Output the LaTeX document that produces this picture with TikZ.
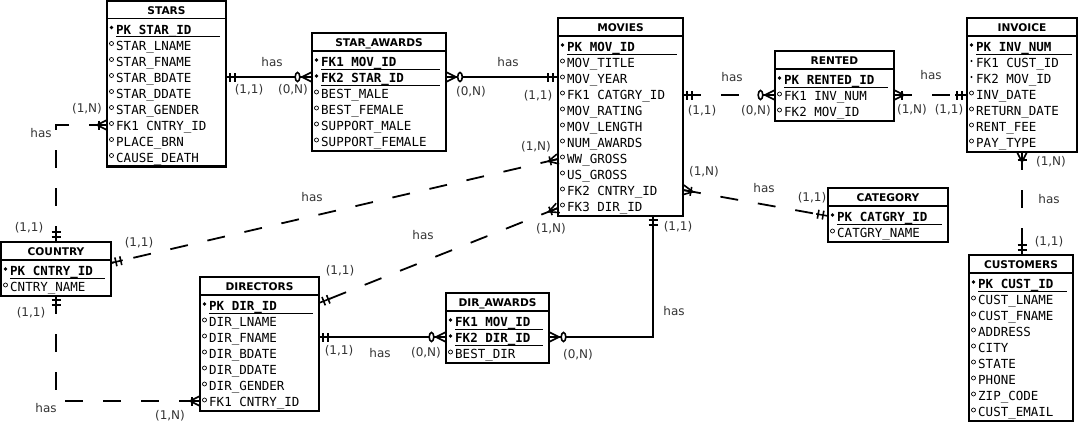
\documentclass[tikz,border=0pt]{standalone}
\usepackage{fontspec}
\setmainfont{DejaVu Sans}
\newfontfamily\fieldfont{DejaVu Sans Mono}
\usepackage{tikz}
\usetikzlibrary{calc}
\usetikzlibrary{decorations.markings}

\tikzset{
  entity/.style={draw, line width=2.2pt, anchor=north west, inner sep=0pt, outer sep=0pt},
  etitle/.style={anchor=base, inner sep=0pt, font=\bfseries\fontsize{10.6}{12}\selectfont},
  esep/.style={line width=1.8pt},
  field/.style={anchor=base west, inner sep=0pt, font=\fieldfont\fontsize{12.5}{16}\selectfont},
  fieldp/.style={field, font=\fieldfont\bfseries\fontsize{12.5}{16}\selectfont},
  fieldo/.style={field}, fieldf/.style={field},
  dotp/.style={circle, fill, inner sep=0pt, minimum size=3.6pt},
  doto/.style={circle, draw, line width=0.7pt, inner sep=0pt, minimum size=4pt},
  dotf/.style={circle, fill, inner sep=0pt, minimum size=2.4pt},
  linep/.style={draw, line width=0.9pt}, lineo/.style={}, linef/.style={},
  lbl/.style={inner sep=0pt, text=black!80, font=\fontsize{12}{14}\selectfont},
  rel/.style={line width=1.8pt},
  dashrel/.style={rel, dash pattern=on 18pt off 20pt},
  symb/.style={draw, solid, line width=1.6pt},
  mk/.style 2 args={postaction={decorate, decoration={markings, mark=at position #1 with {#2}}}},
  one start/.style={mk={4pt}{\draw[symb] (0,-4.5pt) -- (0,4.5pt);}, mk={9pt}{\draw[symb] (0,-4.5pt) -- (0,4.5pt);},
    mk={12pt}{\draw[symb] (-12pt,0) -- (0,0);}},
  one end/.style={mk={-5pt}{\draw[symb] (0,-4.5pt) -- (0,4.5pt);}, mk={-10pt}{\draw[symb] (0,-4.5pt) -- (0,4.5pt);},
    mk={-12pt}{\draw[symb] (12pt,0) -- (0,0);}},
  many start/.style={mk={10pt}{\draw[symb] (-10pt,5pt) -- (0,0) -- (-10pt,-5pt); \draw[symb] (-10pt,0) -- (0,0);}},
  many end/.style={mk={-10pt}{\draw[symb] (10pt,5pt) -- (0,0) -- (10pt,-5pt); \draw[symb] (10pt,0) -- (0,0);}},
  zero start/.style={mk={14pt}{\draw[symb, fill=white] (0,0) ellipse [x radius=2.3pt, y radius=4.5pt];}},
  zero end/.style={mk={-14.5pt}{\draw[symb, fill=white] (0,0) ellipse [x radius=2.3pt, y radius=4.5pt];}},
  bar start/.style={mk={8pt}{\draw[symb] (0,-4.5pt) -- (0,4.5pt);}},
  bar end/.style={mk={-8pt}{\draw[symb] (0,-4.5pt) -- (0,4.5pt);}},
}

\begin{document}
\begin{tikzpicture}[x=1pt, y=-1pt]
	\useasboundingbox (0,0) rectangle (1079,426);

	% STARS
	\node[entity, minimum width=119pt, minimum height=166pt] (stars) at (107,0.5) {};
	\node[etitle] (stars t) at ([yshift=-13.5pt]stars.north) {STARS};
	\draw[esep] ([yshift=-18pt]stars.north west) -- ([yshift=-18pt]stars.north east);
	\foreach \k/\t [count=\i] in {p/PK STAR\_ID, o/STAR\_LNAME, o/STAR\_FNAME, o/STAR\_BDATE, o/STAR\_DDATE, o/STAR\_GENDER, o/FK1 CNTRY\_ID, o/PLACE\_BRN, o/CAUSE\_DEATH} {
		\node[field\k] (stars\i) at ([xshift=9pt, yshift={-17.5pt-16pt*\i}]stars.north west) {\t};
		\node[dot\k] (stars\i d) at ([xshift=-4.5pt, yshift=6.5pt]stars\i.base west) {};
		\path[line\k] ([yshift=-2.5pt]stars\i.base west) -- ($(stars.east |- stars\i.base)+(-6pt,-2.5pt)$);
	}

	% STAR_AWARDS
	\node[entity, minimum width=134pt, minimum height=118pt] (staraw) at (312,33) {};
	\node[etitle] (staraw t) at ([yshift=-13.5pt]staraw.north) {STAR\_AWARDS};
	\draw[esep] ([yshift=-18pt]staraw.north west) -- ([yshift=-18pt]staraw.north east);
	\foreach \k/\t [count=\i] in {p/FK1 MOV\_ID, p/FK2 STAR\_ID, o/BEST\_MALE, o/BEST\_FEMALE, o/SUPPORT\_MALE, o/SUPPORT\_FEMALE} {
		\node[field\k] (staraw\i) at ([xshift=9pt, yshift={-17.5pt-16pt*\i}]staraw.north west) {\t};
		\node[dot\k] (staraw\i d) at ([xshift=-4.5pt, yshift=6.5pt]staraw\i.base west) {};
		\path[line\k] ([yshift=-2.5pt]staraw\i.base west) -- ($(staraw.east |- staraw\i.base)+(-6pt,-2.5pt)$);
	}

	% MOVIES
	\node[entity, minimum width=125pt, minimum height=198pt] (movies) at (558,18) {};
	\node[etitle] (movies t) at ([yshift=-13.5pt]movies.north) {MOVIES};
	\draw[esep] ([yshift=-18pt]movies.north west) -- ([yshift=-18pt]movies.north east);
	\foreach \k/\t [count=\i] in {p/PK MOV\_ID, o/MOV\_TITLE, o/MOV\_YEAR, o/FK1 CATGRY\_ID, o/MOV\_RATING, o/MOV\_LENGTH, o/NUM\_AWARDS, o/WW\_GROSS, o/US\_GROSS, o/FK2 CNTRY\_ID, o/FK3 DIR\_ID} {
		\node[field\k] (movies\i) at ([xshift=9pt, yshift={-17.5pt-16pt*\i}]movies.north west) {\t};
		\node[dot\k] (movies\i d) at ([xshift=-4.5pt, yshift=6.5pt]movies\i.base west) {};
		\path[line\k] ([yshift=-2.5pt]movies\i.base west) -- ($(movies.east |- movies\i.base)+(-6pt,-2.5pt)$);
	}

	% RENTED
	\node[entity, minimum width=119pt, minimum height=70pt] (rented) at (775,51) {};
	\node[etitle] (rented t) at ([yshift=-13.5pt]rented.north) {RENTED};
	\draw[esep] ([yshift=-18pt]rented.north west) -- ([yshift=-18pt]rented.north east);
	\foreach \k/\t [count=\i] in {p/PK RENTED\_ID, o/FK1 INV\_NUM, o/FK2 MOV\_ID} {
		\node[field\k] (rented\i) at ([xshift=9pt, yshift={-17.5pt-16pt*\i}]rented.north west) {\t};
		\node[dot\k] (rented\i d) at ([xshift=-4.5pt, yshift=6.5pt]rented\i.base west) {};
		\path[line\k] ([yshift=-2.5pt]rented\i.base west) -- ($(rented.east |- rented\i.base)+(-6pt,-2.5pt)$);
	}

	% INVOICE
	\node[entity, minimum width=110pt, minimum height=134pt] (invoice) at (967,18) {};
	\node[etitle] (invoice t) at ([yshift=-13.5pt]invoice.north) {INVOICE};
	\draw[esep] ([yshift=-18pt]invoice.north west) -- ([yshift=-18pt]invoice.north east);
	\foreach \k/\t [count=\i] in {p/PK INV\_NUM, f/FK1 CUST\_ID, f/FK2 MOV\_ID, o/INV\_DATE, o/RETURN\_DATE, o/RENT\_FEE, o/PAY\_TYPE} {
		\node[field\k] (invoice\i) at ([xshift=9pt, yshift={-17.5pt-16pt*\i}]invoice.north west) {\t};
		\node[dot\k] (invoice\i d) at ([xshift=-4.5pt, yshift=6.5pt]invoice\i.base west) {};
		\path[line\k] ([yshift=-2.5pt]invoice\i.base west) -- ($(invoice.east |- invoice\i.base)+(-5pt,-2.5pt)$);
	}

	% CATEGORY
	\node[entity, minimum width=120pt, minimum height=54pt] (category) at (828,188) {};
	\node[etitle] (category t) at ([yshift=-13.5pt]category.north) {CATEGORY};
	\draw[esep] ([yshift=-18pt]category.north west) -- ([yshift=-18pt]category.north east);
	\foreach \k/\t [count=\i] in {p/PK CATGRY\_ID, o/CATGRY\_NAME} {
		\node[field\k] (category\i) at ([xshift=9pt, yshift={-17.5pt-16pt*\i}]category.north west) {\t};
		\node[dot\k] (category\i d) at ([xshift=-4.5pt, yshift=6.5pt]category\i.base west) {};
		\path[line\k] ([yshift=-2.5pt]category\i.base west) -- ($(category.east |- category\i.base)+(-6pt,-2.5pt)$);
	}

	% CUSTOMERS
	\node[entity, minimum width=104pt, minimum height=166pt] (customers) at (969,255) {};
	\node[etitle] (customers t) at ([yshift=-13.5pt]customers.north) {CUSTOMERS};
	\draw[esep] ([yshift=-18pt]customers.north west) -- ([yshift=-18pt]customers.north east);
	\foreach \k/\t [count=\i] in {p/PK CUST\_ID, o/CUST\_LNAME, o/CUST\_FNAME, o/ADDRESS, o/CITY, o/STATE, o/PHONE, o/ZIP\_CODE, o/CUST\_EMAIL} {
		\node[field\k] (customers\i) at ([xshift=9pt, yshift={-17.5pt-16pt*\i}]customers.north west) {\t};
		\node[dot\k] (customers\i d) at ([xshift=-4.5pt, yshift=6.5pt]customers\i.base west) {};
		\path[line\k] ([yshift=-2.5pt]customers\i.base west) -- ($(customers.east |- customers\i.base)+(-6pt,-2.5pt)$);
	}

	% COUNTRY
	\node[entity, minimum width=110pt, minimum height=54pt] (country) at (1,242) {};
	\node[etitle] (country t) at ([yshift=-13.5pt]country.north) {COUNTRY};
	\draw[esep] ([yshift=-18pt]country.north west) -- ([yshift=-18pt]country.north east);
	\foreach \k/\t [count=\i] in {p/PK CNTRY\_ID, o/CNTRY\_NAME} {
		\node[field\k] (country\i) at ([xshift=9pt, yshift={-17.5pt-16pt*\i}]country.north west) {\t};
		\node[dot\k] (country\i d) at ([xshift=-4.5pt, yshift=6.5pt]country\i.base west) {};
		\path[line\k] ([yshift=-2.5pt]country\i.base west) -- ($(country.east |- country\i.base)+(-6pt,-2.5pt)$);
	}

	% DIRECTORS
	\node[entity, minimum width=119pt, minimum height=134pt] (directors) at (200,277) {};
	\node[etitle] (directors t) at ([yshift=-13.5pt]directors.north) {DIRECTORS};
	\draw[esep] ([yshift=-18pt]directors.north west) -- ([yshift=-18pt]directors.north east);
	\foreach \k/\t [count=\i] in {p/PK DIR\_ID, o/DIR\_LNAME, o/DIR\_FNAME, o/DIR\_BDATE, o/DIR\_DDATE, o/DIR\_GENDER, o/FK1 CNTRY\_ID} {
		\node[field\k] (directors\i) at ([xshift=9pt, yshift={-17.5pt-16pt*\i}]directors.north west) {\t};
		\node[dot\k] (directors\i d) at ([xshift=-4.5pt, yshift=6.5pt]directors\i.base west) {};
		\path[line\k] ([yshift=-2.5pt]directors\i.base west) -- ($(directors.east |- directors\i.base)+(-6pt,-2.5pt)$);
	}

	% DIR_AWARDS
	\node[entity, minimum width=103pt, minimum height=70pt] (diraw) at (446,293) {};
	\node[etitle] (diraw t) at ([yshift=-13.5pt]diraw.north) {DIR\_AWARDS};
	\draw[esep] ([yshift=-18pt]diraw.north west) -- ([yshift=-18pt]diraw.north east);
	\foreach \k/\t [count=\i] in {p/FK1 MOV\_ID, p/FK2 DIR\_ID, o/BEST\_DIR} {
		\node[field\k] (diraw\i) at ([xshift=9pt, yshift={-17.5pt-16pt*\i}]diraw.north west) {\t};
		\node[dot\k] (diraw\i d) at ([xshift=-4.5pt, yshift=6.5pt]diraw\i.base west) {};
		\path[line\k] ([yshift=-2.5pt]diraw\i.base west) -- ($(diraw.east |- diraw\i.base)+(-6pt,-2.5pt)$);
	}

	% relationships
	\draw[rel, one start, many end, zero end] (stars.east |- 0,77) -- (staraw.west |- 0,77);
	\draw[rel, many start, zero start, one end] (staraw.east |- 0,77) -- (movies.west |- 0,77);
	\draw[dashrel, one start, many end, zero end] (movies.east |- 0,95) -- (rented.west |- 0,95);
	\draw[dashrel, many start, bar start, one end] (rented.east |- 0,95) -- (invoice.west |- 0,95);
	\draw[dashrel, many start, bar start, one end] (invoice.south) -- (invoice.south |- customers.north);
	\draw[dashrel, many start, bar start, one end] (movies.east |- 0,190) -- (category.west |- 0,216);
	\draw[dashrel, many start, bar start, one end] (movies.west |- 0,159) -- (country.east |- 0,263);
	\draw[dashrel, many start, bar start, one end] (movies.west |- 0,208) -- (directors.east |- 0,303);
	\draw[rel, one start, many end, zero end] (movies.south -| 653,0) |- (diraw.east |- 0,337);
	\draw[rel, one start, many end, zero end] (directors.east |- 0,337) -- (diraw.west |- 0,337);
	\draw[dashrel, many start, bar start, one end] (stars.west |- 0,125) -| (country.north);
	\draw[dashrel, one start, many end, bar end] (country.south) |- (directors.west |- 0,401);

	% labels
	\foreach \x/\y/\t [count=\i] in {272/62/has, 249/90/{(1,1)}, 293/90/{(0,N)},
		508/62/has, 471/92/{(0,N)}, 538/96/{(1,1)},
		732/77/has, 702/111/{(1,1)}, 756/111/{(0,N)},
		931/75/has, 912/110/{(1,N)}, 949/110/{(1,1)},
		1051/162/{(1,N)}, 1049/199/has, 1049/242/{(1,1)},
		704/172/{(1,N)}, 764/188/has, 812/198/{(1,1)},
		536/147/{(1,N)}, 312/197/has, 139/243/{(1,1)},
		551/229/{(1,N)}, 423/235/has, 340/271/{(1,1)},
		678/227/{(1,1)}, 674/311/has, 578/355/{(0,N)},
		339/351/{(1,1)}, 380/353/has, 426/353/{(0,N)},
		87/109/{(1,N)}, 41/133/has, 29/228/{(1,1)},
		31/313/{(1,1)}, 46/408/has, 170/416/{(1,N)}}
		\node[lbl] (lab\i) at (\x,\y) {\t};
\end{tikzpicture}
\end{document}
